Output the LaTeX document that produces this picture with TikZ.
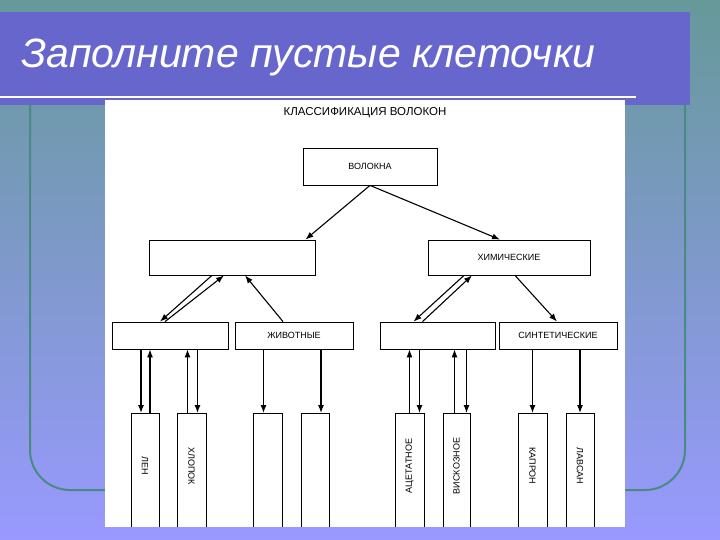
\documentclass[tikz,border=0pt]{standalone}
\usepackage{fontspec}
\setmainfont{Liberation Sans}
\usetikzlibrary{arrows.meta}
\definecolor{bgtop}{RGB}{102,153,153}
\definecolor{bgbot}{RGB}{153,153,255}
\definecolor{frame}{RGB}{70,140,130}
\definecolor{bar}{RGB}{102,102,204}
\begin{document}
\begin{tikzpicture}[x=1pt,y=-1pt,
  bx/.style={draw=black,line width=0.8pt,fill=white,inner sep=0pt},
  ar/.style={-{Latex[length=8pt,width=6pt]},line width=1.1pt},
  tl/.style={line width=0.8pt},
  lbl/.style={font=\fontsize{9}{11}\selectfont}]
\useasboundingbox (0,0) rectangle (720,540);
\shade[top color=bgtop,bottom color=bgbot] (0,0) rectangle (720,540);
\draw[line width=2pt,draw=frame,rounded corners=40pt] (30,105) -- (30,490) -- (685,490) -- (685,105);
\fill[bar] (0,12) rectangle (690,105);
\node[anchor=west,text=white,font=\itshape\fontsize{41}{46}\selectfont] (title) at (18,57) {Заполните пустые клеточки};
\draw[white,line width=2pt] (0,97) -- (636,97);
\fill[white] (105,100) rectangle (625,527);
\node[font=\fontsize{11.5}{13}\selectfont] (head) at (365,113) {КЛАССИФИКАЦИЯ ВОЛОКОН};
% boxes
\node[bx,minimum width=134,minimum height=37,lbl] (vol) at (370,166.5) {ВОЛОКНА};
\node[bx,minimum width=166,minimum height=35] (nat) at (232,257.5) {};
\node[bx,minimum width=162,minimum height=35,lbl] (him) at (509,257.5) {ХИМИЧЕСКИЕ};
\node[bx,minimum width=116,minimum height=27] (rast) at (170,335.5) {};
\node[bx,minimum width=118,minimum height=27,lbl] (zhiv) at (294,335.5) {ЖИВОТНЫЕ};
\node[bx,minimum width=115,minimum height=27] (isk) at (437.5,335.5) {};
\node[bx,minimum width=118,minimum height=27,lbl] (sint) at (558,335.5) {СИНТЕТИЧЕСКИЕ};
\foreach \n/\x/\w/\t/\r in {len/145/28/ЛЕН/-90, hlop/191.5/29/ХЛОПОК/-90, z1/267.5/29//0, z2/315/28//0, ac/409.5/29/АЦЕТАТНОЕ/90, vi/456.5/27/ВИСКОЗНОЕ/90, ka/532.5/29/КАПРОН/-90, la/580/28/ЛАВСАН/-90}{
  \fill[white] (\x-\w/2,413) rectangle (\x+\w/2,527);
  \draw[tl] (\x-\w/2,527) -- (\x-\w/2,413) -- (\x+\w/2,413) -- (\x+\w/2,527);
  \coordinate (\n) at (\x,413);
  \node[lbl,rotate=\r] (\n t) at (\x,466) {\t};
}
% top arrows
\draw[ar] (vol.south) -- ([xshift=-10]nat.north east);
\draw[ar] (vol.south) -- ([xshift=-9]him.north);
\draw[ar] ([xshift=-5]rast.north) -- ([xshift=-8]nat.south);
\draw[ar] ([xshift=-20]nat.south) -- ([xshift=-10]rast.north);
\draw[ar] ([xshift=-11]zhiv.north) -- ([xshift=13]nat.south);
\draw[ar] ([xshift=-15]isk.north) -- ([xshift=-37]him.south);
\draw[ar] ([xshift=-45]him.south) -- ([xshift=-24]isk.north);
\draw[ar] ([xshift=6]him.south) -- ([xshift=-1]sint.north);
% vertical arrows
\draw[ar] ([xshift=-4]len |- rast.south) -- ([xshift=-4]len);
\draw[ar] ([xshift=5]len) -- ([xshift=5]len |- rast.south);
\draw[ar] ([xshift=-4]hlop) -- ([xshift=-4]hlop |- rast.south);
\draw[ar] ([xshift=6]hlop |- rast.south) -- ([xshift=6]hlop);
\draw[ar] ([xshift=-4]z1 |- zhiv.south) -- ([xshift=-4]z1);
\draw[ar] ([xshift=6]z2 |- zhiv.south) -- ([xshift=6]z2);
\draw[ar] ([xshift=0]ac) -- ([xshift=0]ac |- isk.south);
\draw[ar] ([xshift=10]ac |- isk.south) -- ([xshift=10]ac);
\draw[ar] ([xshift=-2]vi) -- ([xshift=-2]vi |- isk.south);
\draw[ar] ([xshift=10]vi |- isk.south) -- ([xshift=10]vi);
\draw[ar] (ka |- sint.south) -- (ka);
\draw[ar] (la |- sint.south) -- (la);
\end{tikzpicture}
\end{document}
